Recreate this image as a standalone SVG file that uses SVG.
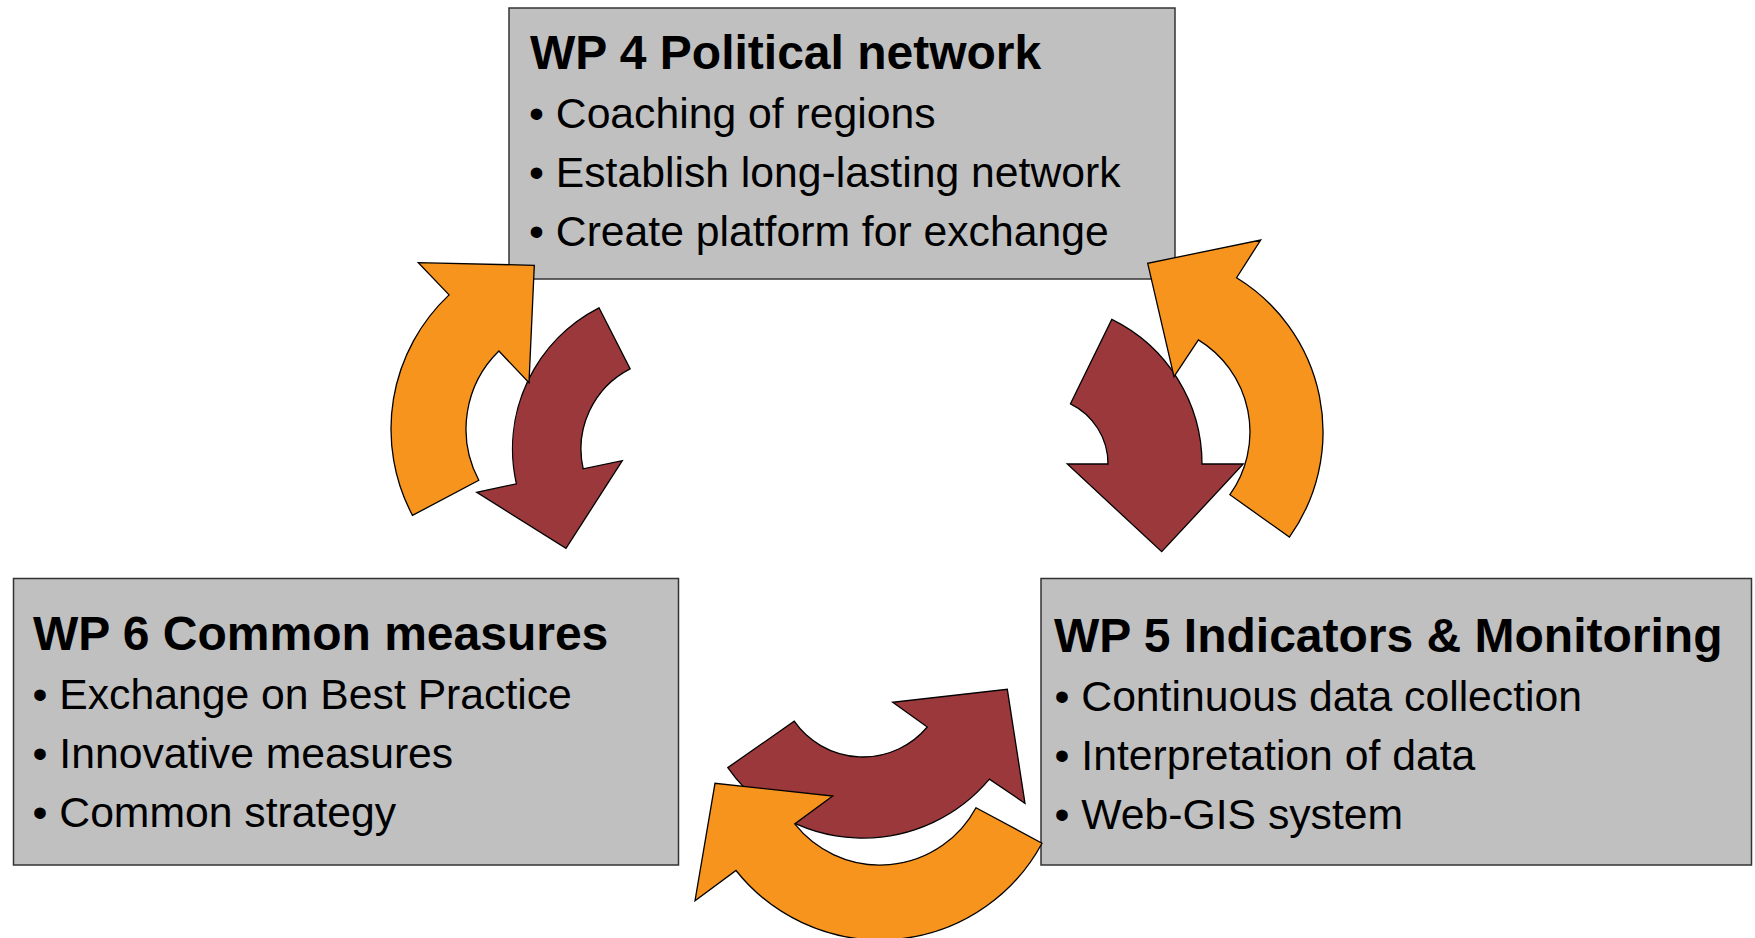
<svg xmlns="http://www.w3.org/2000/svg" width="1755" height="938" viewBox="0 0 1755 938">
<style>
.box{fill:#C0C0C0;stroke:#333333;stroke-width:1.5}
.ttl{font-family:"Liberation Sans",Arial,sans-serif;font-weight:bold;font-size:48px;fill:#000}
.txt{font-family:"Liberation Sans",Arial,sans-serif;font-size:42.7px;fill:#000}
.org{fill:#F7941E;stroke:#000;stroke-width:1.3;stroke-linejoin:miter}
.mar{fill:#9B383B;stroke:#000;stroke-width:1.3;stroke-linejoin:miter}
</style>
<rect width="1755" height="938" fill="#fff"/>
<g id="wp4">
<rect class="box" x="509" y="8" width="666" height="271"/>
<text class="ttl" x="530" y="69">WP 4 Political network</text>
<text class="txt" x="529" y="128">• Coaching of regions</text>
<text class="txt" x="529" y="187">• Establish long-lasting network</text>
<text class="txt" x="529" y="246">• Create platform for exchange</text>
</g>
<g id="wp6">
<rect class="box" x="13.5" y="578.5" width="665" height="286.5"/>
<text class="ttl" x="33" y="650">WP 6 Common measures</text>
<text class="txt" x="32.5" y="709">• Exchange on Best Practice</text>
<text class="txt" x="32.5" y="768">• Innovative measures</text>
<text class="txt" x="32.5" y="827">• Common strategy</text>
</g>
<g id="wp5">
<rect class="box" x="1041" y="578.5" width="710.5" height="286.5"/>
<text class="ttl" x="1054" y="652">WP 5 Indicators &amp; Monitoring</text>
<text class="txt" x="1054.5" y="711">• Continuous data collection</text>
<text class="txt" x="1054.5" y="770">• Interpretation of data</text>
<text class="txt" x="1054.5" y="829">• Web-GIS system</text>
</g>
<g id="connectors">
<path class="mar" d="M 599,307.8 L 630.1,368.8 A 90 90 0 0 0 583.2,468.8 L 622.3,460.7 L 566,548.3 L 476.7,492.3 L 516.4,483.8 A 158.5 158.5 0 0 1 599,307.8 Z"/>
<path class="org" d="M 412.5,515.4 A 184 184 0 0 1 449.1,294.9 L 418.3,262.7 L 534.3,265.3 L 529,382.7 L 498.9,351 A 109 109 0 0 0 478.8,480.2 Z"/>
<path class="mar" d="M 1111.8,319.4 A 161 161 0 0 1 1202,464 L 1243.3,464 L 1161.7,551.7 L 1067.3,464 L 1108,464 A 67 67 0 0 0 1070.5,403.8 Z"/>
<path class="org" d="M 1289.4,537.1 A 181 181 0 0 0 1236.6,277.7 L 1260.7,240 L 1147.7,263.3 L 1174,376.7 L 1198.4,339.9 A 108 108 0 0 1 1229.9,494.7 Z"/>
<path class="mar" d="M 727.8,767.6 L 794.2,721.2 A 84 84 0 0 0 927.3,727 L 892.7,702.3 L 1007.3,689.3 L 1025,803.3 L 989.4,779.1 A 165 165 0 0 1 727.8,767.6 Z"/>
<path class="org" d="M 976,807.7 L 1042,843.2 A 184 184 0 0 1 736,870.5 L 695,900.7 L 715,783.3 L 832.7,796 L 794.7,823.9 A 109 109 0 0 0 976,807.7 Z"/>
</g>
</svg>
